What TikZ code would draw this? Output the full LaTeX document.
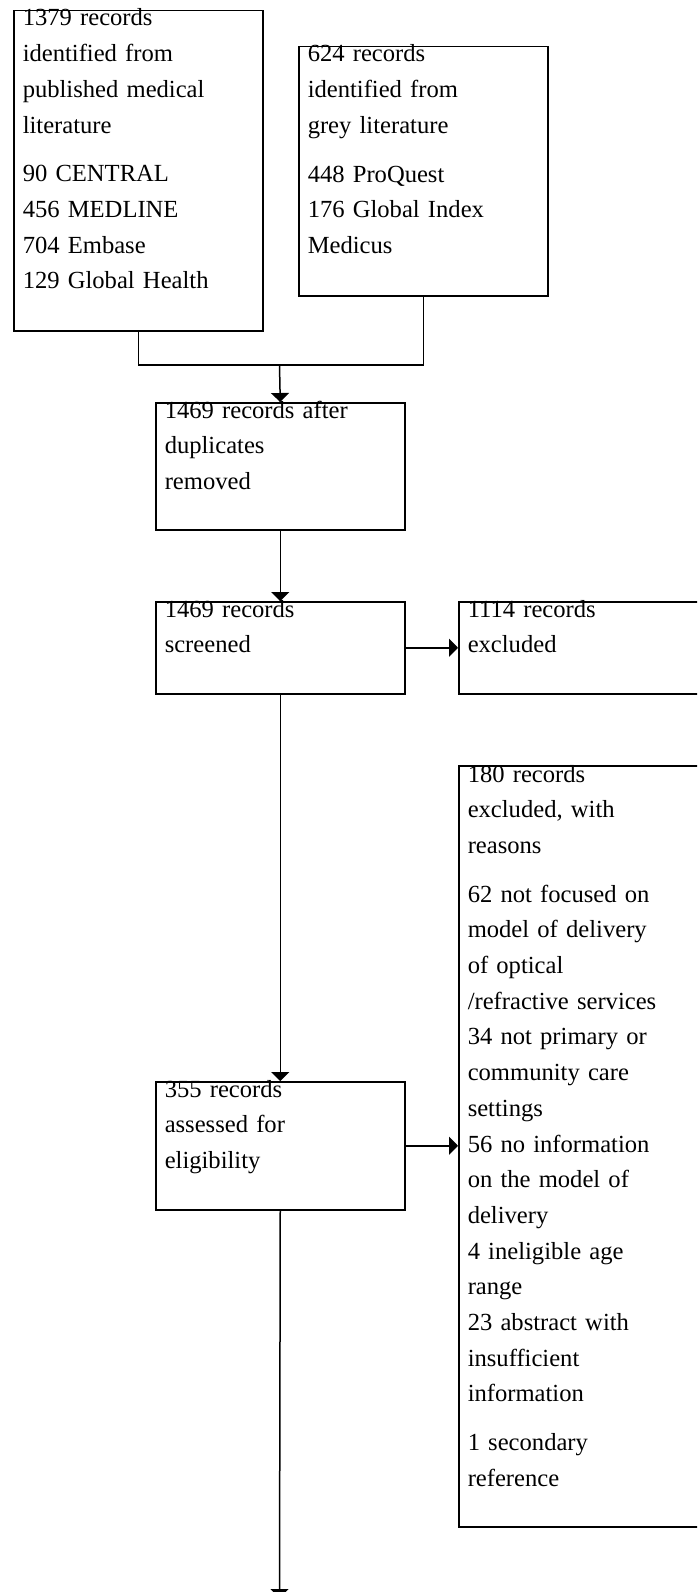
\documentclass[tikz,border=0pt]{standalone}
\usepackage{fontspec}
\setmainfont{Liberation Serif}
\usetikzlibrary{arrows.meta}
\tikzset{
  box/.style={draw, line width=1.5pt, anchor=north west, inner sep=0pt},
  txt/.style={anchor=base west, inner sep=0pt, text width=240pt, align=left,
    font=\fontsize{24.6}{35.7}\selectfont},
}
\begin{document}
\begin{tikzpicture}[x=1pt, y=-1pt, line width=1.5pt, >={Triangle[length=9pt,width=18pt]}]
      \clip (0,0) rectangle (697,1592);
      \node[box, minimum width=249pt, minimum height=320pt] (pub) at (13,10) {};
      \node[box, minimum width=249pt, minimum height=249pt] (grey) at (298,46) {};
      \node[box, minimum width=249pt, minimum height=127pt] (dup) at (155,402) {};
      \node[box, minimum width=249pt, minimum height=92pt] (screen) at (155,601) {};
      \node[box, minimum width=260pt, minimum height=92pt] (excl) at (458,601) {};
      \node[box, minimum width=260pt, minimum height=761pt] (reasons) at (458,765) {};
      \node[box, minimum width=249pt, minimum height=128pt] (assess) at (155,1081) {};
      \node[txt] (pubtxt) at ([shift={(9,16)}]pub.north west)
        {1379 records\\identified from\\published medical\\literature\\[13pt]
         90 CENTRAL\\456 MEDLINE\\704 Embase\\129 Global Health};
      \node[txt] (greytxt) at ([shift={(9,16)}]grey.north west)
        {624 records\\identified from\\grey literature\\[13pt]
         448 ProQuest\\176 Global Index\\Medicus};
      \node[txt] (duptxt) at ([shift={(9,16)}]dup.north west)
        {1469 records after\\duplicates\\removed};
      \node[txt] (screentxt) at ([shift={(9,16)}]screen.north west)
        {1469 records\\screened};
      \node[txt] (excltxt) at ([shift={(9,16)}]excl.north west)
        {1114 records\\excluded};
      \node[txt] (reasonstxt) at ([shift={(9,17)}]reasons.north west)
        {180 records\\excluded, with\\reasons\\[13pt]
         62 not focused on\\model of delivery\\of optical\\/refractive services\\
         34 not primary or\\community care\\settings\\
         56 no information\\on the model of\\delivery\\
         4 ineligible age\\range\\
         23 abstract with\\insufficient\\information\\[13pt]
         1 secondary\\reference};
      \node[txt] (assesstxt) at ([shift={(9,16)}]assess.north west)
        {355 records\\assessed for\\eligibility};
      \coordinate (merge) at (279.5,365);
      \coordinate (next) at (279.5,1598);
      \draw (pub.south) |- (merge);
      \draw (grey.south) |- (merge);
      \begin{scope}[->]
        \draw (merge) to (dup.north);
        \draw (dup.south) to (screen.north);
        \draw (screen.east) to (excl.west);
        \draw (screen.south) to (assess.north);
        \draw (assess.east) to (assess.east -| reasons.west);
        \draw (assess.south) to (next);
      \end{scope}
\end{tikzpicture}
\end{document}
